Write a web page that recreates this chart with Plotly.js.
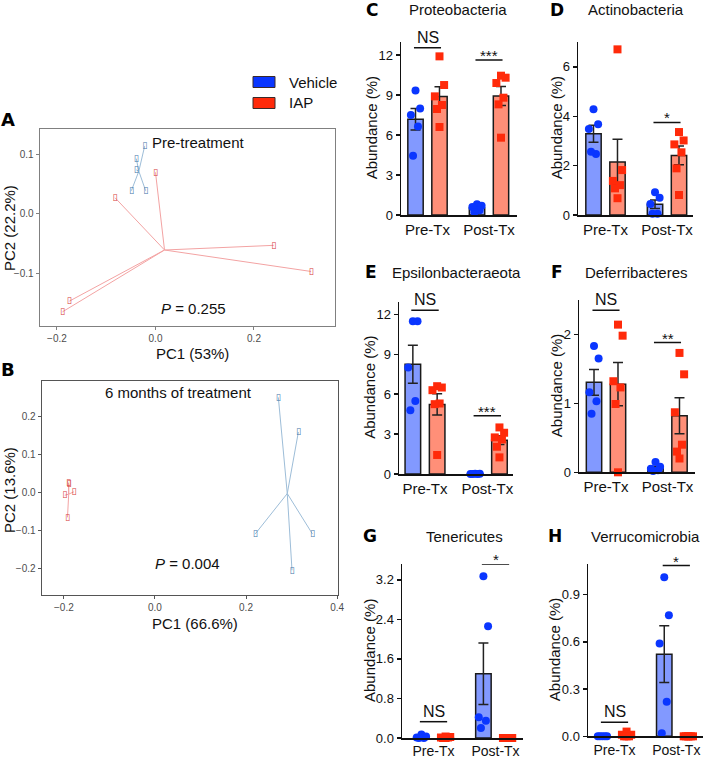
<!DOCTYPE html>
<html><head><meta charset="utf-8">
<script src="https://cdn.plot.ly/plotly-3.0.1.min.js"></script>
<style>html,body{margin:0;padding:0;background:#fff}#chart{width:721px;height:759px}</style>
</head><body><div id="chart"></div>
<script>
// ---------------- DATA ----------------
const groupNames = ['Vehicle', 'IAP'];
const timepoints = ['Pre-Tx', 'Post-Tx'];

// PCA A (pre-treatment)
const pcaA_vehPC1 = [-0.022, -0.039, -0.039, -0.049, -0.020];
const pcaA_vehPC2 = [0.114, 0.093, 0.074, 0.039, 0.039];
const pcaA_iapPC1 = [0.000, -0.082, 0.240, 0.316, -0.175, -0.189];
const pcaA_iapPC2 = [0.070, 0.027, -0.053, -0.097, -0.147, -0.165];
const pcaA_title = 'Pre-treatment';
const pcaA_p = '0.255';
const pcaA_xlab = 'PC1 (53%)';
const pcaA_ylab = 'PC2 (22.2%)';

// PCA B (6 months)
const pcaB_vehPC1 = [0.271, 0.315, 0.220, 0.346, 0.301];
const pcaB_vehPC2 = [0.249, 0.158, -0.110, -0.110, -0.205];
const pcaB_iapPC1 = [-0.190, -0.189, -0.198, -0.178, -0.192];
const pcaB_iapPC2 = [0.025, 0.022, -0.008, 0.001, -0.066];
const pcaB_title = '6 months of treatment';
const pcaB_p = '0.004';
const pcaB_xlab = 'PC1 (66.6%)';
const pcaB_ylab = 'PC2 (13.6%)';

// Bar panels: abundance (%) per mouse
const proteo_preVeh  = [9.33, 7.98, 7.50, 6.63, 4.45];
const proteo_preIap  = [11.9, 9.75, 8.90, 8.25, 7.95, 6.60];
const proteo_postVeh = [0.80, 0.70, 0.60, 0.35, 0.20];
const proteo_postIap = [10.45, 10.3, 9.90, 8.80, 8.30, 5.80];

const actino_preVeh  = [4.28, 3.68, 3.48, 2.47, 2.56];
const actino_preIap  = [6.71, 1.82, 1.38, 1.21, 1.08, 0.68];
const actino_postVeh = [0.92, 0.70, 0.45, 0.05, 0.05];
const actino_postIap = [3.36, 3.02, 2.86, 2.54, 1.89, 0.81];

const epsilon_preVeh  = [11.48, 11.48, 8.00, 5.48, 4.80];
const epsilon_preIap  = [6.60, 6.50, 6.30, 5.30, 5.25, 1.43];
const epsilon_postVeh = [0.02, 0.01, 0.0, 0.0, 0.0];
const epsilon_postIap = [3.50, 3.10, 2.75, 2.60, 2.05, 1.25];

const deferri_preVeh  = [1.83, 1.65, 1.16, 1.03, 0.85];
const deferri_preIap  = [2.14, 1.98, 1.32, 1.23, 0.99, 0.00];
const deferri_postVeh = [0.15, 0.08, 0.05, 0.03, 0.02];
const deferri_postIap = [1.73, 1.42, 0.87, 0.40, 0.30, 0.20];

const teneri_preVeh  = [0.07, 0.03, 0.01, 0.0, 0.0];
const teneri_preIap  = [0.03, 0.02, 0.01, 0.01, 0.0, 0.0];
const teneri_postVeh = [3.27, 2.26, 0.42, 0.35, 0.20];
const teneri_postIap = [0.0, 0.0, 0.0, 0.0, 0.0, 0.0];

const verruco_preVeh  = [0.0, 0.0, 0.0, 0.0, 0.0];
const verruco_preIap  = [0.03, 0.01, 0.01, 0.0, 0.0, 0.0];
const verruco_postVeh = [1.01, 0.77, 0.59, 0.22, 0.02];
const verruco_postIap = [0.0, 0.0, 0.0, 0.0, 0.0, 0.0];

const phylumNames = ['Proteobacteria','Actinobacteria','Epsilonbacteraeota','Deferribacteres','Tenericutes','Verrucomicrobia'];
const panelLetters = ['C','D','E','F','G','H'];
const sigPre  = ['NS','NS','NS','NS','NS','NS'];
const sigPost = ['***','*','***','**','*','*'];

// ---------------- STYLE / LAYOUT HELPERS ----------------
const W = 721, H = 759;
const px = x => x / W, py = y => 1 - y / H;
const FONT = 'Liberation Sans, Arial, sans-serif';
const VEH_BAR = '#8299ff', IAP_BAR = '#ff8f78';
const VEH_PT = '#0a36ff', IAP_PT = '#ff2a0a';

const traces = [];
const annotations = [];
const shapes = [];
const layout = {
  width: W, height: H, autosize: false,
  margin: {l: 0, r: 0, t: 0, b: 0, pad: 0},
  paper_bgcolor: '#fff', plot_bgcolor: 'rgba(0,0,0,0)',
  showlegend: false, font: {family: FONT, color: '#111'},
  annotations, shapes
};

function txt(x, y, text, size, opts) {
  annotations.push(Object.assign({
    xref: 'paper', yref: 'paper', x: px(x), y: py(y), text: text,
    showarrow: false, xanchor: 'center', yanchor: 'middle',
    font: {family: FONT, size: size, color: '#111'}
  }, opts || {}));
}
const mean = a => a.reduce((s, v) => s + v, 0) / a.length;
const sem = a => { const m = mean(a); const v = a.reduce((s, x) => s + (x - m) ** 2, 0) / (a.length - 1); return Math.sqrt(v / a.length); };

// ---------------- PCA PANELS ----------------
const pcaPanels = [
  {ax: 1, vx: pcaA_vehPC1, vy: pcaA_vehPC2, ix: pcaA_iapPC1, iy: pcaA_iapPC2,
   title: pcaA_title, p: pcaA_p, xlab: pcaA_xlab, ylab: pcaA_ylab,
   xd: [40, 335], yd: [129, 326], xr: [-0.2345, 0.3645], yr: [-0.1888, 0.1429], dx: 0.2, dy: 0.1,
   frame: '#808080', titleXY: [198, 142], pXY: [193, 308], xlabY: 353, ylabXY: [9, 228], letter: 'A', letterY: 120},
  {ax: 2, vx: pcaB_vehPC1, vy: pcaB_vehPC2, ix: pcaB_iapPC1, iy: pcaB_iapPC2,
   title: pcaB_title, p: pcaB_p, xlab: pcaB_xlab, ylab: pcaB_ylab,
   xd: [42, 338], yd: [381, 595], xr: [-0.248, 0.402], yr: [-0.27, 0.292], dx: 0.2, dy: 0.1,
   frame: '#555', titleXY: [178, 392], pXY: [187, 563], xlabY: 623, ylabXY: [9, 490], letter: 'B', letterY: 370}
];

pcaPanels.forEach(P => {
  const xa = 'x' + P.ax, ya = 'y' + P.ax;
  layout['xaxis' + P.ax] = {
    domain: [px(P.xd[0]), px(P.xd[1])], anchor: ya, range: P.xr, dtick: P.dx, tick0: 0, tickformat: '.1f',
    showline: true, mirror: true, linecolor: P.frame, linewidth: 1.4, ticks: 'outside', ticklen: 3,
    tickcolor: P.frame, tickfont: {family: FONT, size: 10, color: '#4d4d4d'}, showgrid: false, zeroline: false
  };
  layout['yaxis' + P.ax] = {
    domain: [py(P.yd[1]), py(P.yd[0])], anchor: xa, range: P.yr, dtick: P.dy, tick0: 0, tickformat: '.1f',
    showline: true, mirror: true, linecolor: P.frame, linewidth: 1.4, ticks: 'outside', ticklen: 3,
    tickcolor: P.frame, tickfont: {family: FONT, size: 10, color: '#4d4d4d'}, showgrid: false, zeroline: false
  };
  [[P.vx, P.vy, '#9dbdd8', '#3f74a8'], [P.ix, P.iy, '#f3a3a3', '#d63a3a']].forEach(([xs, ys, lc, mc]) => {
    const cx = mean(xs), cy = mean(ys);
    const lx = [], ly = [];
    xs.forEach((x, i) => { lx.push(cx, x, null); ly.push(cy, ys[i], null); });
    traces.push({type: 'scatter', mode: 'lines', x: lx, y: ly, xaxis: xa, yaxis: ya,
      line: {color: lc, width: 1}, hoverinfo: 'skip'});
    traces.push({type: 'scatter', mode: 'text', x: xs, y: ys, xaxis: xa, yaxis: ya,
      text: xs.map(() => '\u25AF'), textposition: 'middle center', cliponaxis: false,
      textfont: {family: 'DejaVu Sans', size: 9, color: mc}});
  });
  txt(P.titleXY[0], P.titleXY[1], P.title, 15);
  txt(P.pXY[0], P.pXY[1], '<i>P</i> = ' + P.p, 15);
  txt((P.xd[0] + P.xd[1]) / 2 + 5, P.xlabY, P.xlab, 15);
  txt(P.ylabXY[0], P.ylabXY[1], P.ylab, 15, {textangle: -90});
  txt(8, P.letterY, '<b>' + P.letter + '</b>', 18, {font: {family: 'DejaVu Sans, ' + FONT, size: 18, color: '#000'}});
});

// Legend
[[groupNames[0], VEH_PT, 82], [groupNames[1], IAP_PT, 103]].forEach(([name, col, y]) => {
  shapes.push({type: 'rect', xref: 'paper', yref: 'paper', x0: px(253), x1: px(275), y0: py(y + 5.5), y1: py(y - 5.5),
    fillcolor: col, line: {color: '#3a2a2a', width: 1}});
  txt(287, y, name, 15, {xanchor: 'left'});
});

// ---------------- BAR PANELS ----------------
const barData = [
  [proteo_preVeh, proteo_preIap, proteo_postVeh, proteo_postIap],
  [actino_preVeh, actino_preIap, actino_postVeh, actino_postIap],
  [epsilon_preVeh, epsilon_preIap, epsilon_postVeh, epsilon_postIap],
  [deferri_preVeh, deferri_preIap, deferri_postVeh, deferri_postIap],
  [teneri_preVeh, teneri_preIap, teneri_postVeh, teneri_postIap],
  [verruco_preVeh, verruco_preIap, verruco_postVeh, verruco_postIap]
];
// layout per panel (pixel geometry)
const barStyle = [
  {xd: [401, 517], yd: [41.7, 215], yr: [0, 13],    tv: [0, 3, 6, 9, 12], tf: '', c: [427.5, 489],   sig: [12.55, 11.63], titleY: 10,  ytX: 371, xf: 15},
  {xd: [578, 693], yd: [41.7, 215], yr: [0, 7.02],  tv: [0, 2, 4, 6],     tf: '', c: [605.5, 667],   sig: [7.15, 3.75],   titleY: 10,  ytX: 556, xf: 15},
  {xd: [399, 513], yd: [301.7, 474], yr: [0, 12.95], tv: [0, 3, 6, 9, 12], tf: '', c: [425, 487.3], sig: [12.3, 4.37],   titleY: 272, ytX: 370, xf: 15},
  {xd: [579, 695], yd: [300, 472.3], yr: [0, 2.497], tv: [0, 1, 2],       tf: '', c: [606, 667.5], sig: [2.35, 1.88],   titleY: 272, ytX: 556, xf: 15},
  {xd: [402, 523], yd: [564, 738], yr: [0, 3.52],   tv: [0, 0.8, 1.6, 2.4, 3.2], tf: '.1f', c: [433.5, 495.5], sig: [0.33, 3.52], titleY: 536, ytX: 369, xf: 14},
  {xd: [588, 703], yd: [564, 736.3], yr: [0, 1.095], tv: [0, 0.3, 0.6, 0.9], tf: '.1f', c: [614.5, 676.3], sig: [0.089, 1.085], titleY: 536, ytX: 554, xf: 14}
];
const JIT = [0, 0.075, -0.075, 0.04, -0.04, 0.0];
const OFF = 0.195, BW = 0.25;

barData.forEach((sets, k) => {
  const S = barStyle[k];
  const n = k + 3;
  const xa = 'x' + n, ya = 'y' + n;
  const unit = S.c[1] - S.c[0];
  const xr = [1 - (S.c[0] - S.xd[0]) / unit, 2 + (S.xd[1] - S.c[1]) / unit];
  layout['xaxis' + n] = {
    domain: [px(S.xd[0]), px(S.xd[1])], anchor: ya, range: xr, tickvals: [1, 2], ticktext: timepoints,
    showline: true, linecolor: '#111', linewidth: 1.5, ticks: '', showgrid: false, zeroline: false,
    tickfont: {family: FONT, size: S.xf, color: '#111'}
  };
  layout['yaxis' + n] = {
    domain: [py(S.yd[1]), py(S.yd[0])], anchor: xa, range: S.yr, tickvals: S.tv, tickformat: S.tf,
    showline: true, linecolor: '#111', linewidth: 1.5, ticks: 'outside', ticklen: 4, tickwidth: 1.5, tickcolor: '#111',
    showgrid: false, zeroline: false, tickfont: {family: FONT, size: 13, color: '#111'}
  };
  // sets: preVeh, preIap, postVeh, postIap
  [[0, 2, -OFF, VEH_BAR, VEH_PT, 'circle'], [1, 3, OFF, IAP_BAR, IAP_PT, 'square']].forEach(([iPre, iPost, off, barCol, ptCol, sym]) => {
    const groupsVals = [sets[iPre], sets[iPost]];
    traces.push({type: 'bar', x: [1 + off, 2 + off], y: groupsVals.map(mean), width: BW, xaxis: xa, yaxis: ya,
      marker: {color: barCol, line: {color: '#1a1a1a', width: 1.5}},
      error_y: {type: 'data', array: groupsVals.map(sem), visible: true, color: '#222', thickness: 1.5, width: 5}});
    const xs = [], ys = [];
    groupsVals.forEach((vals, g) => vals.forEach((v, i) => { xs.push(1 + g + off + JIT[i % JIT.length]); ys.push(v); }));
    traces.push({type: 'scatter', mode: 'markers', x: xs, y: ys, xaxis: xa, yaxis: ya, cliponaxis: false,
      marker: {symbol: sym, size: 8, color: ptCol, line: {width: 0}}});
  });
  // significance
  [[1, sigPre[k], S.sig[0]], [2, sigPost[k], S.sig[1]]].forEach(([g, lab, yv]) => {
    shapes.push({type: 'line', xref: xa, yref: ya, x0: g - 0.22, x1: g + 0.22, y0: yv, y1: yv,
      line: {color: '#111', width: 1.5}});
    const isNS = lab === 'NS';
    annotations.push({xref: xa, yref: ya, x: g, y: yv, text: lab, showarrow: false,
      xanchor: 'center', yanchor: 'bottom', yshift: isNS ? 0 : -6,
      font: {family: FONT, size: isNS ? 16 : 15, color: '#111'}});
  });
  const midY = (S.yd[0] + S.yd[1]) / 2;
  txt(S.ytX, midY, 'Abundance (%)', 15, {textangle: -90});
  txt(S.ytX + 1, S.titleY, '<b>' + panelLetters[k] + '</b>', 17, {font: {family: 'DejaVu Sans, ' + FONT, size: 17, color: '#000'}});
  txt((S.c[0] + S.c[1]) / 2, S.titleY, phylumNames[k], 15);
});

Plotly.newPlot('chart', traces, layout, {staticPlot: true, displayModeBar: false});
</script>
</body></html>
